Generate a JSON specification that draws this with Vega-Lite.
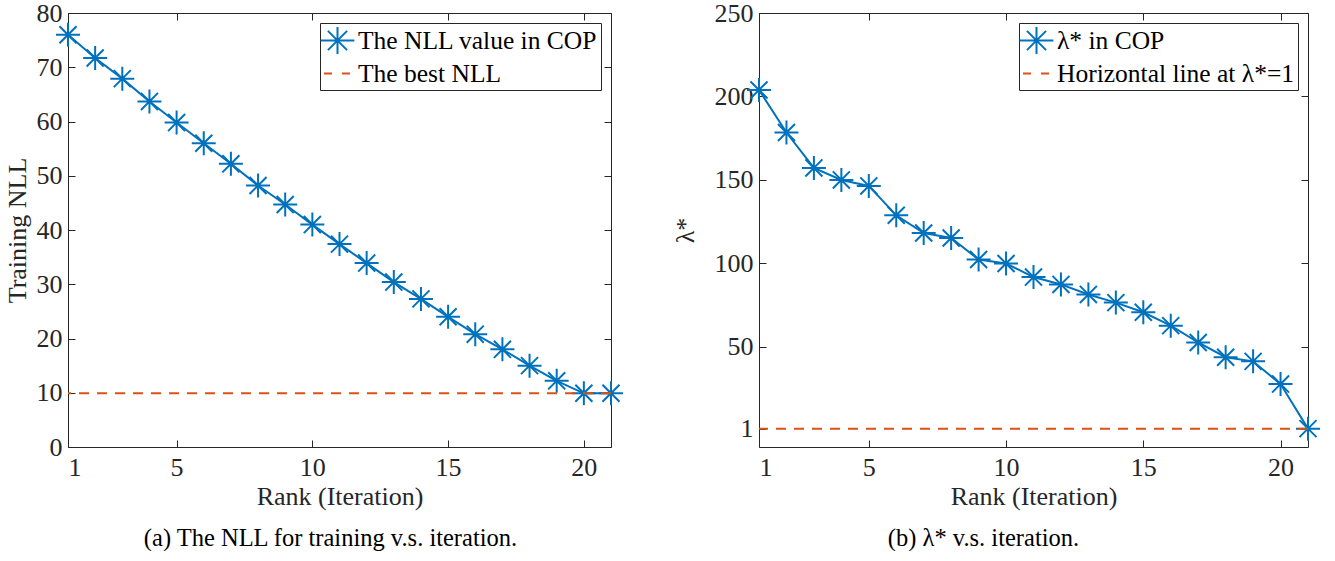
{
  "$schema": "https://vega.github.io/schema/vega-lite/v6.json",
  "background": "white",
  "padding": {"left": 4, "top": 0, "right": 5, "bottom": 0},
  "spacing": 148,
  "bounds": "flush",
  "datasets": {
    "nll": [
      {"iter": 1, "v": 76.0, "series": "The NLL value in COP"},
      {"iter": 2, "v": 71.7, "series": "The NLL value in COP"},
      {"iter": 3, "v": 67.9, "series": "The NLL value in COP"},
      {"iter": 4, "v": 63.7, "series": "The NLL value in COP"},
      {"iter": 5, "v": 59.8, "series": "The NLL value in COP"},
      {"iter": 6, "v": 56.0, "series": "The NLL value in COP"},
      {"iter": 7, "v": 52.2, "series": "The NLL value in COP"},
      {"iter": 8, "v": 48.2, "series": "The NLL value in COP"},
      {"iter": 9, "v": 44.7, "series": "The NLL value in COP"},
      {"iter": 10, "v": 41.0, "series": "The NLL value in COP"},
      {"iter": 11, "v": 37.4, "series": "The NLL value in COP"},
      {"iter": 12, "v": 33.9, "series": "The NLL value in COP"},
      {"iter": 13, "v": 30.4, "series": "The NLL value in COP"},
      {"iter": 14, "v": 27.3, "series": "The NLL value in COP"},
      {"iter": 15, "v": 24.0, "series": "The NLL value in COP"},
      {"iter": 16, "v": 20.8, "series": "The NLL value in COP"},
      {"iter": 17, "v": 18.0, "series": "The NLL value in COP"},
      {"iter": 18, "v": 15.0, "series": "The NLL value in COP"},
      {"iter": 19, "v": 12.2, "series": "The NLL value in COP"},
      {"iter": 20, "v": 9.9, "series": "The NLL value in COP"},
      {"iter": 21, "v": 9.9, "series": "The NLL value in COP"}
    ],
    "nllbest": [{"v": 9.9, "series": "The best NLL"}],
    "lam": [
      {"iter": 1, "v": 203.9, "series": "λ* in COP"},
      {"iter": 2, "v": 178.4, "series": "λ* in COP"},
      {"iter": 3, "v": 157.2, "series": "λ* in COP"},
      {"iter": 4, "v": 150.0, "series": "λ* in COP"},
      {"iter": 5, "v": 146.4, "series": "λ* in COP"},
      {"iter": 6, "v": 128.8, "series": "λ* in COP"},
      {"iter": 7, "v": 118.2, "series": "λ* in COP"},
      {"iter": 8, "v": 115.2, "series": "λ* in COP"},
      {"iter": 9, "v": 102.3, "series": "λ* in COP"},
      {"iter": 10, "v": 99.9, "series": "λ* in COP"},
      {"iter": 11, "v": 91.8, "series": "λ* in COP"},
      {"iter": 12, "v": 87.4, "series": "λ* in COP"},
      {"iter": 13, "v": 81.4, "series": "λ* in COP"},
      {"iter": 14, "v": 76.5, "series": "λ* in COP"},
      {"iter": 15, "v": 70.7, "series": "λ* in COP"},
      {"iter": 16, "v": 62.7, "series": "λ* in COP"},
      {"iter": 17, "v": 52.6, "series": "λ* in COP"},
      {"iter": 18, "v": 43.8, "series": "λ* in COP"},
      {"iter": 19, "v": 41.3, "series": "λ* in COP"},
      {"iter": 20, "v": 27.7, "series": "λ* in COP"},
      {"iter": 21, "v": 1.0, "series": "λ* in COP"}
    ],
    "lambest": [{"v": 1, "series": "Horizontal line at λ*=1"}]
  },
  "config": {
    "view": {"stroke": null},
    "font": "Liberation Serif",
    "axis": {
      "grid": false,
      "domainColor": "#262626",
      "domainWidth": 1,
      "tickColor": "#262626",
      "tickSize": -7,
      "labelFont": "Liberation Serif",
      "labelFontSize": 26,
      "labelColor": "#262626",
      "titleFont": "Liberation Serif",
      "titleFontSize": 26,
      "titleFontWeight": "normal",
      "titleColor": "#262626"
    },
    "legend": {
      "orient": "top-right",
      "offset": 10,
      "strokeColor": "#262626",
      "fillColor": "white",
      "padding": 3,
      "labelFont": "Liberation Serif",
      "labelFontSize": 25.5,
      "labelColor": "black",
      "labelLimit": 500,
      "labelOffset": 6,
      "symbolSize": 729,
      "symbolStrokeWidth": 2,
      "rowPadding": 1,
      "cornerRadius": 0
    },
    "title": {"font": "Liberation Serif", "fontSize": 24.5, "fontWeight": "normal", "color": "black"}
  },
  "hconcat": [
    {
      "width": 543,
      "height": 434,
      "title": {"text": "(a) The NLL for training v.s. iteration.", "orient": "bottom", "frame": "group", "offset": 18, "dx": -9},
      "layer": [
        {
          "data": {"name": "nll"},
          "mark": {"type": "line", "strokeWidth": 2},
          "encoding": {
            "x": {"field": "iter", "type": "quantitative", "scale": {"domain": [1, 21], "nice": false, "zero": false},
                  "axis": {"orient": "bottom", "values": [1, 5, 10, 15, 20], "title": "Rank (Iteration)", "labelPadding": 14, "titlePadding": 3}},
            "y": {"field": "v", "type": "quantitative", "scale": {"domain": [0, 80], "nice": false},
                  "axis": {"orient": "left", "values": [0, 10, 20, 30, 40, 50, 60, 70, 80], "title": "Training NLL", "labelPadding": 13, "titlePadding": 6}},
            "color": {"field": "series", "type": "nominal",
                      "scale": {"domain": ["The NLL value in COP", "The best NLL"], "range": ["#0072BD", "#D95319"]},
                      "legend": {"title": null,
                        "encode": {"symbols": {"update": {
                          "shape": {"signal": "datum.value === 'The best NLL' ? 'stroke' : 'M-1.25,0L1.25,0M0,-1L0,1M-0.71,-0.71L0.71,0.71M-0.71,0.71L0.71,-0.71'"},
                          "strokeDash": {"signal": "datum.value === 'The best NLL' ? [8,10] : []"},
                          "stroke": {"signal": "datum.value === 'The best NLL' ? '#D95319' : '#0072BD'"},
                          "fill": {"value": "transparent"},
                          "strokeWidth": {"value": 2}
                        }}}}}
          }
        },
        {
          "data": {"name": "nll"},
          "mark": {"type": "point", "shape": "M-1,0L1,0M0,-1L0,1M-0.71,-0.71L0.71,0.71M-0.71,0.71L0.71,-0.71", "filled": false, "size": 576, "strokeWidth": 2, "opacity": 1},
          "encoding": {
            "x": {"field": "iter", "type": "quantitative", "axis": {"orient": "top", "values": [1, 5, 10, 15, 20], "labels": false, "title": null}},
            "y": {"field": "v", "type": "quantitative", "axis": {"orient": "right", "values": [0, 10, 20, 30, 40, 50, 60, 70, 80], "labels": false, "title": null}},
            "color": {"field": "series", "type": "nominal"}
          }
        },
        {
          "data": {"name": "nllbest"},
          "mark": {"type": "rule", "strokeDash": [10, 8], "strokeWidth": 2},
          "encoding": {
            "y": {"field": "v", "type": "quantitative", "axis": null},
            "color": {"field": "series", "type": "nominal"}
          }
        }
      ],
      "resolve": {"axis": {"x": "independent", "y": "independent"}}
    },
    {
      "width": 549,
      "height": 434,
      "title": {"text": "(b) λ* v.s. iteration.", "orient": "bottom", "frame": "group", "offset": 18, "dx": -50},
      "layer": [
        {
          "data": {"name": "lam"},
          "mark": {"type": "line", "strokeWidth": 2},
          "encoding": {
            "x": {"field": "iter", "type": "quantitative", "scale": {"domain": [1, 21], "nice": false, "zero": false},
                  "axis": {"orient": "bottom", "values": [1, 5, 10, 15, 20], "title": "Rank (Iteration)", "labelPadding": 14, "titlePadding": 3}},
            "y": {"field": "v", "type": "quantitative", "scale": {"domain": [-10, 250], "nice": false, "zero": false},
                  "axis": {"orient": "left", "values": [1, 50, 100, 150, 200, 250], "title": "λ*", "labelPadding": 13, "titlePadding": 16}},
            "color": {"field": "series", "type": "nominal",
                      "scale": {"domain": ["λ* in COP", "Horizontal line at λ*=1"], "range": ["#0072BD", "#D95319"]},
                      "legend": {"title": null,
                        "encode": {"symbols": {"update": {
                          "shape": {"signal": "datum.value === 'Horizontal line at λ*=1' ? 'stroke' : 'M-1.25,0L1.25,0M0,-1L0,1M-0.71,-0.71L0.71,0.71M-0.71,0.71L0.71,-0.71'"},
                          "strokeDash": {"signal": "datum.value === 'Horizontal line at λ*=1' ? [8,10] : []"},
                          "stroke": {"signal": "datum.value === 'Horizontal line at λ*=1' ? '#D95319' : '#0072BD'"},
                          "fill": {"value": "transparent"},
                          "strokeWidth": {"value": 2}
                        }}}}}
          }
        },
        {
          "data": {"name": "lam"},
          "mark": {"type": "point", "shape": "M-1,0L1,0M0,-1L0,1M-0.71,-0.71L0.71,0.71M-0.71,0.71L0.71,-0.71", "filled": false, "size": 576, "strokeWidth": 2, "opacity": 1},
          "encoding": {
            "x": {"field": "iter", "type": "quantitative", "axis": {"orient": "top", "values": [1, 5, 10, 15, 20], "labels": false, "title": null}},
            "y": {"field": "v", "type": "quantitative", "axis": {"orient": "right", "values": [1, 50, 100, 150, 200, 250], "labels": false, "title": null}},
            "color": {"field": "series", "type": "nominal"}
          }
        },
        {
          "data": {"name": "lambest"},
          "mark": {"type": "rule", "strokeDash": [10, 8], "strokeWidth": 2},
          "encoding": {
            "y": {"field": "v", "type": "quantitative", "axis": null},
            "color": {"field": "series", "type": "nominal"}
          }
        }
      ],
      "resolve": {"axis": {"x": "independent", "y": "independent"}}
    }
  ],
  "resolve": {"scale": {"color": "independent"}, "legend": {"color": "independent"}}
}
